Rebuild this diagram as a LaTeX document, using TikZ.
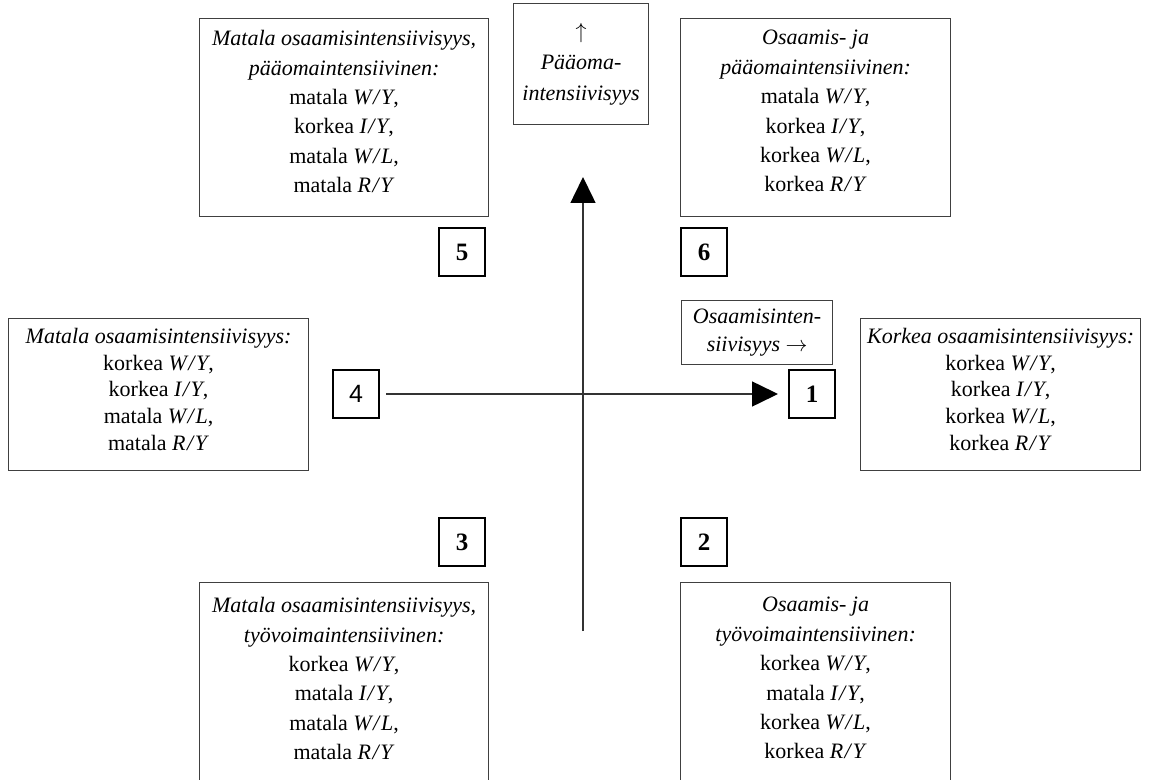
\documentclass[tikz,border=0pt]{standalone}
\usepackage{fontspec}
\setmainfont{Liberation Serif}
\usetikzlibrary{arrows.meta}
\newfontfamily\sansnum{Liberation Sans}
\newcommand\myratio[2]{\textit{#1\kern0.7pt/\kern0.9pt#2}}
\begin{document}
\begin{tikzpicture}[x=0.5pt,y=-0.5pt,
  bigbox/.style={draw=black!75, line width=0.6pt, inner sep=0pt},
  numbox/.style={draw=black, line width=1pt, minimum width=23pt, minimum height=24pt, inner sep=0pt, font=\fontsize{12.5}{14}\selectfont\bfseries},
  txt/.style={align=center, font=\fontsize{11}{14.7}\selectfont, inner sep=0pt},
  txtmid/.style={align=center, font=\fontsize{11}{13.3}\selectfont, inner sep=0pt},
  axis/.style={draw=black!80, line width=0.75pt, -{Triangle[length=13pt,width=12.5pt,color=black]}}
]
\useasboundingbox (0,0) rectangle (1149,780);
\clip (0,0) rectangle (1149,780);

% quadrant boxes
\node[bigbox, anchor=north west, minimum width=144.5pt, minimum height=99pt] (tl) at (199,18) {};
\node[txt, anchor=north] (tltext) at ([yshift=-6pt]tl.north) {\textit{Matala osaamisintensiivisyys,}\\ \textit{pääomaintensiivinen:}\\ matala \myratio{W}{Y},\\ korkea \myratio{I}{Y},\\ matala \myratio{W}{L},\\ matala \myratio{R}{Y}};

\node[bigbox, anchor=north west, minimum width=135pt, minimum height=99pt] (tr) at (680,18) {};
\node[txt, anchor=north] (trtext) at ([yshift=-6pt]tr.north) {\textit{Osaamis- ja}\\ \textit{pääomaintensiivinen:}\\ matala \myratio{W}{Y},\\ korkea \myratio{I}{Y},\\ korkea \myratio{W}{L},\\ korkea \myratio{R}{Y}};

\node[bigbox, anchor=north west, minimum width=144.5pt, minimum height=110pt] (bl) at (199,582) {};
\node[txt, anchor=north] (bltext) at ([yshift=-7.5pt]bl.north) {\textit{Matala osaamisintensiivisyys,}\\ \textit{työvoimaintensiivinen:}\\ korkea \myratio{W}{Y},\\ matala \myratio{I}{Y},\\ matala \myratio{W}{L},\\ matala \myratio{R}{Y}};

\node[bigbox, anchor=north west, minimum width=135pt, minimum height=110pt] (br) at (680,582) {};
\node[txt, anchor=north] (brtext) at ([yshift=-7.5pt]br.north) {\textit{Osaamis- ja}\\ \textit{työvoimaintensiivinen:}\\ korkea \myratio{W}{Y},\\ matala \myratio{I}{Y},\\ korkea \myratio{W}{L},\\ korkea \myratio{R}{Y}};

\node[bigbox, anchor=north west, minimum width=150pt, minimum height=76pt] (lf) at (8,318) {};
\node[txtmid, anchor=north] (lftext) at ([yshift=-5pt]lf.north) {\textit{Matala osaamisintensiivisyys:}\\ korkea \myratio{W}{Y},\\ korkea \myratio{I}{Y},\\ matala \myratio{W}{L},\\ matala \myratio{R}{Y}};

\node[bigbox, anchor=north west, minimum width=140pt, minimum height=76pt] (rt) at (860,318) {};
\node[txtmid, anchor=north] (rttext) at ([yshift=-5pt]rt.north) {\textit{Korkea osaamisintensiivisyys:}\\ korkea \myratio{W}{Y},\\ korkea \myratio{I}{Y},\\ korkea \myratio{W}{L},\\ korkea \myratio{R}{Y}};

% axis labels
\node[bigbox, align=center, font=\fontsize{11}{15.5}\selectfont, anchor=north west, minimum width=67.5pt, minimum height=60.5pt] (pa) at (513,3) {$\uparrow$\\ \textit{Pääoma-}\\ \textit{intensiivisyys}};
\node[bigbox, align=center, font=\fontsize{11}{14}\selectfont, anchor=north west, minimum width=75.5pt, minimum height=32pt] (os) at (681,300) {\textit{Osaamisinten-}\\ \textit{siivisyys $\rightarrow$}};

% number boxes
\node[numbox] (n1) at (812,394) {1};
\node[numbox] (n2) at (704,542) {2};
\node[numbox] (n3) at (462,542) {3};
\node[numbox, font=\sansnum\fontsize{12.5}{14}\selectfont] (n4) at (356,394) {4};
\node[numbox] (n5) at (462,252) {5};
\node[numbox] (n6) at (704,252) {6};

% axes
\coordinate (vbot) at (583,631);
\coordinate (vtop) at (583,177);
\draw[axis] (vbot) -- (vtop);
\draw[axis] ([xshift=3pt]n4.east) -- ([xshift=-5pt]n1.west);
\end{tikzpicture}
\end{document}
